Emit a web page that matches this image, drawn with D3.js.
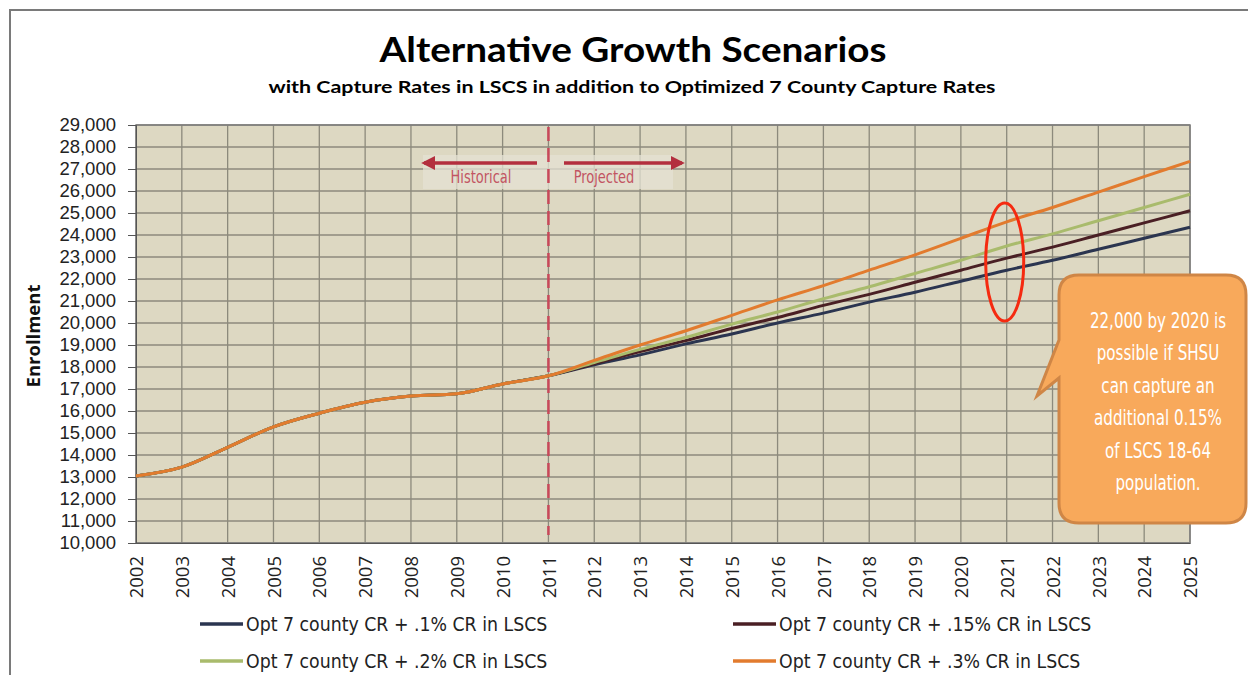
<!DOCTYPE html>
<html>
<head>
  <meta charset="utf-8">
  <script src="https://d3js.org/d3.v7.min.js"></script>
  <style>
    body { margin: 0; background: #fff; }
    svg { display: block; }
    .tick text { font-family: "Open Sans", "DejaVu Sans", sans-serif; }
    .yaxis .tick text { font-family: "Liberation Sans", Arial, sans-serif; }
  </style>
</head>
<body>
<script>
// years on the x axis
var years = [2002, 2003, 2004, 2005, 2006, 2007, 2008, 2009, 2010, 2011, 2012, 2013,
             2014, 2015, 2016, 2017, 2018, 2019, 2020, 2021, 2022, 2023, 2024, 2025];

// shared historical enrollment 2002-2011
var historical = [13050, 13450, 14350, 15280, 15900, 16400, 16680, 16780, 17230, 17600];

// projected enrollment 2012-2025, one array per scenario
var projCR10 = [18100, 18550, 19050, 19500, 20000, 20450, 20950, 21400, 21900, 22400, 22850, 23350, 23850, 24350];
var projCR15 = [18150, 18700, 19200, 19750, 20250, 20800, 21300, 21850, 22400, 22950, 23450, 24000, 24550, 25100];
var projCR20 = [18200, 18800, 19350, 19950, 20500, 21100, 21650, 22250, 22850, 23500, 24050, 24650, 25250, 25850];
var projCR30 = [18300, 19000, 19650, 20350, 21050, 21700, 22400, 23100, 23850, 24600, 25250, 25950, 26650, 27350];

var seriesNames = ["Opt 7 county CR + .1% CR in LSCS", "Opt 7 county CR + .15% CR in LSCS",
                   "Opt 7 county CR + .2% CR in LSCS", "Opt 7 county CR + .3% CR in LSCS"];
var seriesColors = ["#2b3550", "#4a1f24", "#a9bb6c", "#e27b2e"];

var yTicks = d3.range(10000, 29001, 1000);

var calloutLines = ["22,000 by 2020 is", "possible if SHSU", "can capture an",
                    "additional 0.15%", "of LSCS 18-64", "population."];

var series = [projCR10, projCR15, projCR20, projCR30].map(function(p, i) {
  return { name: seriesNames[i], color: seriesColors[i], values: historical.concat(p) };
});

var W = 1248, H = 675;
var plot = { left: 136, right: 1190, top: 125, bottom: 543 };
var condensed = "'DejaVu Sans Condensed', 'Liberation Sans Narrow', sans-serif";

var svg = d3.select("body").append("svg").attr("width", W).attr("height", H);

// outer frame (top and left edges visible)
svg.append("path").attr("d", "M10,675 L10,10 L1248,10")
  .attr("fill", "none").attr("stroke", "#7a7a7a").attr("stroke-width", 2);

var x = d3.scaleLinear().domain([2002, 2025]).range([plot.left, plot.right]);
var y = d3.scaleLinear().domain([10000, 29000]).range([plot.bottom, plot.top]);

// plot background
svg.append("rect").attr("x", plot.left).attr("y", plot.top)
  .attr("width", plot.right - plot.left).attr("height", plot.bottom - plot.top)
  .attr("fill", "#ddd8c2");

// grid
svg.append("g").selectAll("line").data(yTicks).join("line")
  .attr("x1", plot.left).attr("x2", plot.right)
  .attr("y1", function(d) { return y(d); }).attr("y2", function(d) { return y(d); })
  .attr("stroke", "#8c8a7c").attr("stroke-width", 1.3);
svg.append("g").selectAll("line").data(years).join("line")
  .attr("y1", plot.top).attr("y2", plot.bottom)
  .attr("x1", function(d) { return x(d); }).attr("x2", function(d) { return x(d); })
  .attr("stroke", "#8c8a7c").attr("stroke-width", 1.3);

svg.append("rect").attr("x", plot.left).attr("y", plot.top)
  .attr("width", plot.right - plot.left).attr("height", plot.bottom - plot.top)
  .attr("fill", "none").attr("stroke", "#7d7d7d").attr("stroke-width", 1.5);

// y axis
var yAxis = svg.append("g").attr("class", "yaxis").attr("transform", "translate(" + plot.left + ",0)")
  .call(d3.axisLeft(y).tickValues(yTicks).tickSize(8).tickPadding(12)
        .tickFormat(d3.format(",")));
yAxis.select(".domain").attr("stroke", "#555");
yAxis.selectAll(".tick line").attr("stroke", "#555");
yAxis.selectAll(".tick text").attr("font-size", 18.5).attr("fill", "#222");

// x axis, rotated labels
var xAxis = svg.append("g").attr("transform", "translate(0," + plot.bottom + ")")
  .call(d3.axisBottom(x).tickValues(years).tickSize(0).tickFormat(d3.format("d")));
xAxis.select(".domain").attr("stroke", "#555");
xAxis.selectAll(".tick text")
  .attr("font-size", 18.5).attr("fill", "#222")
  .attr("transform", "rotate(-90)")
  .attr("text-anchor", "end").attr("dy", "0.36em").attr("dx", 0).attr("y", 0).attr("x", -13);

svg.append("text").attr("transform", "translate(40,336) rotate(-90)")
  .attr("text-anchor", "middle")
  .attr("font-family", "'Open Sans', sans-serif").attr("font-weight", "bold")
  .attr("font-size", 18.5).attr("fill", "#111").text("Enrollment");

// historical / projected annotation
var ann = svg.append("g");
ann.append("rect").attr("x", 423).attr("y", 155).attr("width", 250).attr("height", 34)
  .attr("fill", "#e4e1d3").attr("opacity", 0.75);
var arrowColor = "#b32f3e";
var defs = svg.append("defs");
defs.append("marker").attr("id", "ah").attr("viewBox", "0 0 10 10")
  .attr("refX", 8).attr("refY", 5).attr("markerWidth", 4).attr("markerHeight", 4)
  .attr("orient", "auto-start-reverse")
  .append("path").attr("d", "M0,0 L10,5 L0,10 z").attr("fill", arrowColor);
ann.append("line").attr("x1", 537).attr("x2", 424).attr("y1", 163).attr("y2", 163)
  .attr("stroke", arrowColor).attr("stroke-width", 3.5).attr("marker-end", "url(#ah)");
ann.append("line").attr("x1", 564).attr("x2", 682).attr("y1", 163).attr("y2", 163)
  .attr("stroke", arrowColor).attr("stroke-width", 3.5).attr("marker-end", "url(#ah)");
ann.selectAll("g.lbl").data([["Historical", 481], ["Projected", 604]]).join("g")
  .attr("class", "lbl")
  .attr("transform", function(d) { return "translate(" + d[1] + ",183) scale(0.85,1)"; })
  .append("text").attr("text-anchor", "middle")
  .attr("font-family", condensed)
  .attr("font-size", 17).attr("fill", "#c25462").text(function(d) { return d[0]; });

svg.append("line").attr("x1", x(2011)).attr("x2", x(2011))
  .attr("y1", plot.top + 2).attr("y2", plot.bottom - 8)
  .attr("stroke", "#c8485a").attr("stroke-width", 2.5).attr("stroke-dasharray", "14,7");

// series lines
var line = d3.line()
  .x(function(d, i) { return x(years[i]); })
  .y(function(d) { return y(d); })
  .curve(d3.curveMonotoneX);

svg.append("g").selectAll("path").data(series).join("path")
  .attr("d", function(s) { return line(s.values); })
  .attr("fill", "none").attr("stroke", function(s) { return s.color; })
  .attr("stroke-width", 3).attr("stroke-linejoin", "round");

// red ellipse highlight
svg.append("ellipse").attr("cx", x(2021) - 2).attr("cy", 262).attr("rx", 19).attr("ry", 59)
  .attr("fill", "none").attr("stroke", "#f52a10").attr("stroke-width", 3);

// callout bubble
var bx0 = 1059, by0 = 275, bx1 = 1246, by1 = 523, r = 20;
var bubble = "M" + (bx0 + r) + "," + by0 +
  " L" + (bx1 - r) + "," + by0 + " Q" + bx1 + "," + by0 + " " + bx1 + "," + (by0 + r) +
  " L" + bx1 + "," + (by1 - r) + " Q" + bx1 + "," + by1 + " " + (bx1 - r) + "," + by1 +
  " L" + (bx0 + r) + "," + by1 + " Q" + bx0 + "," + by1 + " " + bx0 + "," + (by1 - r) +
  " L" + bx0 + ",378 L1037,396 L" + bx0 + ",340" +
  " L" + bx0 + "," + (by0 + r) + " Q" + bx0 + "," + by0 + " " + (bx0 + r) + "," + by0 + " Z";
svg.append("path").attr("d", bubble)
  .attr("fill", "#f8a95b").attr("stroke", "#cf8646").attr("stroke-width", 3);
svg.append("g").attr("transform", "translate(1158,0) scale(0.8,1)")
  .selectAll("text").data(calloutLines).join("text")
  .attr("x", 0).attr("y", function(d, i) { return 328 + i * 32.4; })
  .attr("text-anchor", "middle")
  .attr("font-family", condensed)
  .attr("font-size", 21).attr("fill", "#fff").text(function(d) { return d; });

// titles
svg.append("text").attr("x", 633).attr("y", 62).attr("text-anchor", "middle")
  .attr("font-family", "Lato, 'Open Sans', sans-serif").attr("font-weight", "bold")
  .attr("font-size", 35).attr("fill", "#000")
  .attr("textLength", 507).attr("lengthAdjust", "spacingAndGlyphs")
  .text("Alternative Growth Scenarios");
svg.append("text").attr("x", 632).attr("y", 93).attr("text-anchor", "middle")
  .attr("font-family", "Lato, 'Open Sans', sans-serif").attr("font-weight", "bold")
  .attr("font-size", 17.5).attr("fill", "#000")
  .attr("textLength", 727).attr("lengthAdjust", "spacingAndGlyphs")
  .text("with Capture Rates in LSCS in addition to Optimized 7 County Capture Rates");

// legend
var legendPos = [[200, 624], [733, 624], [200, 661], [733, 661]];
var leg = svg.append("g").selectAll("g").data(series).join("g")
  .attr("transform", function(s, i) { return "translate(" + legendPos[i][0] + "," + legendPos[i][1] + ")"; });
leg.append("line").attr("x1", 0).attr("x2", 43).attr("y1", 0).attr("y2", 0)
  .attr("stroke", function(s) { return s.color; }).attr("stroke-width", 3.5);
leg.append("text").attr("x", 46).attr("y", 0).attr("dy", "0.35em")
  .attr("font-family", condensed)
  .attr("font-size", 19.3).attr("fill", "#222").text(function(s) { return s.name; });
</script>
</body>
</html>
